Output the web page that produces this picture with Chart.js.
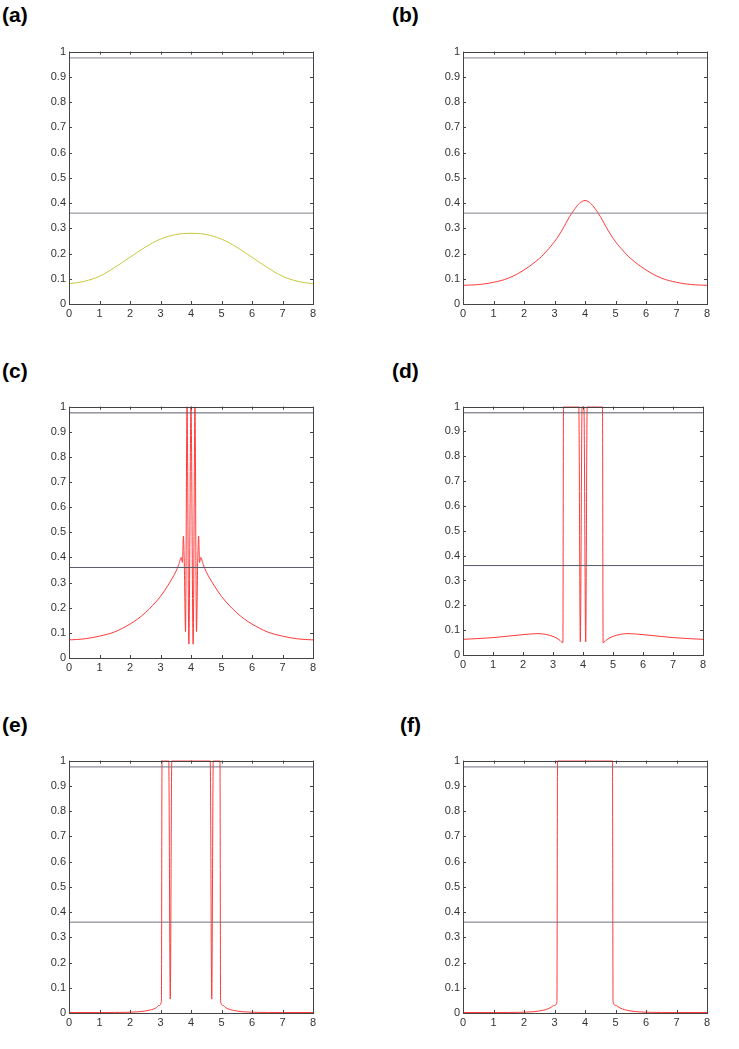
<!DOCTYPE html>
<html>
<head>
<meta charset="utf-8">
<script src="https://cdn.jsdelivr.net/npm/chart.js@4"></script>
<style>
  body { margin: 0; background: #fff; width: 739px; height: 1049px; position: relative; overflow: hidden; }
  .panel { position: absolute; }
  .lbl { position: absolute; font: bold 21px "Liberation Sans", Arial, sans-serif; line-height: 1; color: #000; }
</style>
</head>
<body>
<div class="lbl" style="left:2px;top:4px">(a)</div>
<div class="lbl" style="left:392px;top:4px">(b)</div>
<div class="lbl" style="left:2px;top:360px">(c)</div>
<div class="lbl" style="left:392px;top:360px">(d)</div>
<div class="lbl" style="left:2px;top:714px">(e)</div>
<div class="lbl" style="left:400px;top:714px">(f)</div>

<div class="panel" id="pa"><canvas id="ca"></canvas></div>
<div class="panel" id="pb"><canvas id="cb"></canvas></div>
<div class="panel" id="pc"><canvas id="cc"></canvas></div>
<div class="panel" id="pd"><canvas id="cd"></canvas></div>
<div class="panel" id="pe"><canvas id="ce"></canvas></div>
<div class="panel" id="pf"><canvas id="cf"></canvas></div>

<script>
// reference levels drawn in every panel
const refLevels = [0.975, 0.36];
const xTicks = [0, 1, 2, 3, 4, 5, 6, 7, 8];
const yTicks = [0, 0.1, 0.2, 0.3, 0.4, 0.5, 0.6, 0.7, 0.8, 0.9, 1];

// (a)
const xA = [0, 0.5, 1, 1.5, 2, 2.5, 3, 3.5, 4, 4.5, 5, 5.5, 6, 6.5, 7, 7.5, 8];
const yA = [0.08, 0.09, 0.11, 0.145, 0.185, 0.225, 0.257, 0.275, 0.28, 0.275, 0.257, 0.225, 0.185, 0.145, 0.11, 0.09, 0.08];

// (b)
const xB = [0, 0.5, 1, 1.5, 2, 2.5, 2.75, 3, 3.25, 3.5, 3.75, 3.9, 4, 4.1, 4.25, 4.5, 4.75, 5, 5.25, 5.5, 6, 6.5, 7, 7.5, 8];
const yB = [0.074, 0.077, 0.086, 0.103, 0.135, 0.18, 0.211, 0.247, 0.293, 0.347, 0.39, 0.406, 0.41, 0.406, 0.39, 0.347, 0.293, 0.247, 0.211, 0.18, 0.135, 0.103, 0.086, 0.077, 0.074];

// (c)
const xC = [0, 0.5, 1, 1.5, 2, 2.25, 2.5, 2.75, 3, 3.25, 3.5, 3.6, 3.68, 3.72, 3.75, 3.78, 3.82, 3.87, 3.93, 4.0,
            4.07, 4.13, 4.18, 4.22, 4.25, 4.28, 4.32, 4.4, 4.5, 4.75, 5, 5.25, 5.5, 5.75, 6, 6.5, 7, 7.5, 8];
const yC = [0.072, 0.076, 0.087, 0.104, 0.135, 0.155, 0.18, 0.21, 0.245, 0.29, 0.343, 0.372, 0.40, 0.38, 0.485, 0.38, 0.105, 1.0, 0.055, 1.0,
            0.055, 1.0, 0.105, 0.38, 0.485, 0.38, 0.40, 0.372, 0.343, 0.29, 0.245, 0.21, 0.18, 0.155, 0.135, 0.104, 0.087, 0.076, 0.072];

// (d)
const xD = [0, 1, 2, 2.5, 3, 3.2, 3.33, 3.35, 3.86, 3.91, 3.97, 4.03, 4.09, 4.14, 4.65, 4.67, 4.8, 5, 5.5, 6, 7, 8];
const yD = [0.063, 0.07, 0.082, 0.086, 0.075, 0.062, 0.05, 1, 1, 0.053, 1, 1, 0.053, 1, 1, 0.05, 0.062, 0.075, 0.086, 0.082, 0.07, 0.063];

// (e)
const xE = [0, 1, 2, 2.3, 2.5, 2.7, 2.85, 2.95, 3.03, 3.05, 3.27, 3.32, 3.37, 4.63, 4.68, 4.73, 4.95, 4.97, 5.05, 5.15, 5.3, 5.5, 5.7, 6, 7, 8];
const yE = [0.002, 0.002, 0.003, 0.005, 0.008, 0.013, 0.02, 0.03, 0.045, 1, 1, 0.055, 1, 1, 0.055, 1, 1, 0.045, 0.03, 0.02, 0.013, 0.008, 0.005, 0.003, 0.002, 0.002];

// (f)
const xF = [0, 1, 2, 2.3, 2.5, 2.7, 2.85, 3.0, 3.08, 3.1, 4.9, 4.92, 5.0, 5.15, 5.3, 5.5, 5.7, 6, 7, 8];
const yF = [0.002, 0.002, 0.003, 0.005, 0.008, 0.013, 0.02, 0.03, 0.045, 1, 1, 0.045, 0.03, 0.02, 0.013, 0.008, 0.005, 0.003, 0.002, 0.002];

const YAXIS_W = 28, XAXIS_H = 18, PAD_T = 6, PAD_R = 8;
const tickFont = { family: '"Liberation Sans Narrow", "Liberation Sans", Arial', size: 11 };

// inward matlab style ticks + full box
const boxTicks = {
  id: 'boxTicks',
  afterDatasetsDraw(chart) {
    const { ctx, chartArea: a, scales: { x, y } } = chart;
    ctx.save();
    ctx.strokeStyle = '#444';
    ctx.lineWidth = 1;
    ctx.beginPath();
    xTicks.forEach(v => {
      const px = Math.round(x.getPixelForValue(v)) + 0.5;
      ctx.moveTo(px, a.bottom); ctx.lineTo(px, a.bottom - 3);
      ctx.moveTo(px, a.top); ctx.lineTo(px, a.top + 3);
    });
    yTicks.forEach(v => {
      const py = Math.round(y.getPixelForValue(v)) + 0.5;
      ctx.moveTo(a.left, py); ctx.lineTo(a.left + 3, py);
      ctx.moveTo(a.right, py); ctx.lineTo(a.right - 3, py);
    });
    ctx.stroke();
    ctx.strokeRect(Math.round(a.left) + 0.5, Math.round(a.top) + 0.5, Math.round(a.right - a.left), Math.round(a.bottom - a.top));
    ctx.restore();
  }
};

function pts(xs, ys) {
  return xs.map((v, i) => ({ x: v, y: ys[i] }));
}

function makePanel(divId, canvasId, rect, xs, ys, color, refColor, smooth) {
  const div = document.getElementById(divId);
  div.style.left = (rect.left - YAXIS_W) + 'px';
  div.style.top = (rect.top - PAD_T) + 'px';
  div.style.width = (rect.right - rect.left + YAXIS_W + PAD_R) + 'px';
  div.style.height = (rect.bottom - rect.top + XAXIS_H + PAD_T) + 'px';

  const datasets = refLevels.map(lv => ({
    data: [{ x: 0, y: lv }, { x: 8, y: lv }],
    borderColor: refColor,
    borderWidth: 1,
    pointRadius: 0
  }));
  const curve = {
    data: pts(xs, ys),
    borderColor: color,
    borderWidth: 1,
    pointRadius: 0
  };
  if (smooth) curve.tension = 0.4;
  else curve.cubicInterpolationMode = 'monotone';
  datasets.push(curve);

  new Chart(document.getElementById(canvasId).getContext('2d'), {
    type: 'scatter',
    data: { datasets: datasets },
    options: {
      responsive: true,
      maintainAspectRatio: false,
      animation: false,
      showLine: true,
      layout: { padding: { top: PAD_T, right: PAD_R, left: 0, bottom: 0 } },
      plugins: { legend: { display: false }, tooltip: { enabled: false } },
      scales: {
        x: {
          type: 'linear', min: 0, max: 8,
          afterFit: s => { s.height = XAXIS_H; },
          afterBuildTicks: s => { s.ticks = xTicks.map(v => ({ value: v })); },
          grid: { display: false, drawTicks: false },
          border: { display: false },
          ticks: { padding: 3, color: '#333', font: tickFont }
        },
        y: {
          type: 'linear', min: 0, max: 1,
          afterFit: s => { s.width = YAXIS_W; },
          afterBuildTicks: s => { s.ticks = yTicks.map(v => ({ value: v })); },
          grid: { display: false, drawTicks: false },
          border: { display: false },
          ticks: {
            padding: 3, color: '#333', font: tickFont,
            callback: v => (v === 0 || v === 1) ? String(v) : v.toFixed(1)
          }
        }
      }
    },
    plugins: [boxTicks]
  });
}

makePanel('pa', 'ca', { left: 69, top: 48, right: 313, bottom: 304 }, xA, yA, '#c8c83c', '#80808e', true);
makePanel('pb', 'cb', { left: 463, top: 48, right: 707, bottom: 304 }, xB, yB, '#ff3a3a', '#80808e', true);
makePanel('pc', 'cc', { left: 69, top: 403, right: 313, bottom: 658 }, xC, yC, '#ff3a3a', '#5a5a6a', false);
makePanel('pd', 'cd', { left: 463, top: 403, right: 703, bottom: 655 }, xD, yD, '#ff3a3a', '#5a5a6a', false);
makePanel('pe', 'ce', { left: 69, top: 757, right: 313, bottom: 1013 }, xE, yE, '#ff3a3a', '#70707e', false);
makePanel('pf', 'cf', { left: 463, top: 757, right: 707, bottom: 1013 }, xF, yF, '#ff3a3a', '#70707e', false);
</script>
</body>
</html>
